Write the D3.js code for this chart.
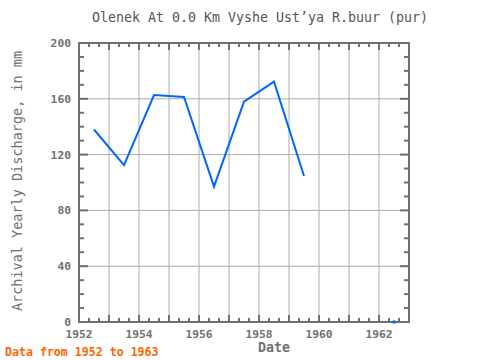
<!DOCTYPE html>
<html>
<head>
<script src="https://cdn.jsdelivr.net/npm/d3@7"></script>
<style>
  body { margin: 0; background: #fff; }
  text { font-family: "DejaVu Sans Mono", "Liberation Mono", monospace; }
</style>
</head>
<body>
<script>
  // data (mid-year points)
  var years = [1952.5, 1953.5, 1954.5, 1955.5, 1956.5, 1957.5, 1958.5, 1959.5, 1960.5, 1961.5, 1962.5];
  var discharge = [138, 112.5, 162.7, 161.3, 97, 158, 172.3, 104.7, null, null, 0];
  var xTicks = [1952, 1954, 1956, 1958, 1960, 1962];
  var yTicks = [0, 40, 80, 120, 160, 200];

  var w = 480, h = 360;
  var m = { left: 79, right: 409, top: 43, bottom: 322 };
  var axisCol = "#707070", gridCol = "#aaaaaa", lineCol = "#0066ff";

  var svg = d3.select("body").append("svg")
    .attr("width", w)
    .attr("height", h);

  var x = d3.scaleLinear().domain([1952, 1963]).range([m.left, m.right]);
  var y = d3.scaleLinear().domain([0, 200]).range([m.bottom, m.top]);

  // grid
  svg.append("g").selectAll("line")
    .data(d3.range(1953, 1963))
    .enter().append("line")
    .attr("x1", function (d) { return x(d); })
    .attr("x2", function (d) { return x(d); })
    .attr("y1", m.top).attr("y2", m.bottom)
    .attr("stroke", gridCol).attr("stroke-width", 1);

  svg.append("g").selectAll("line")
    .data([40, 80, 120, 160])
    .enter().append("line")
    .attr("y1", function (d) { return y(d); })
    .attr("y2", function (d) { return y(d); })
    .attr("x1", m.left).attr("x2", m.right)
    .attr("stroke", gridCol).attr("stroke-width", 1);

  // ticks (inward)
  var ticks = svg.append("g").attr("stroke", axisCol).attr("stroke-width", 2);
  var xMinor = d3.range(1952, 1963.001, 1 / 3);
  xMinor.forEach(function (t) {
    var major = Math.abs(t - Math.round(t)) < 0.01;
    var len = major ? 7 : 4;
    ticks.append("line").attr("x1", x(t)).attr("x2", x(t))
      .attr("y1", m.bottom).attr("y2", m.bottom - len);
    ticks.append("line").attr("x1", x(t)).attr("x2", x(t))
      .attr("y1", m.top).attr("y2", m.top + len);
  });
  d3.range(0, 201, 10).forEach(function (v) {
    var len = v % 40 === 0 ? 9 : 5;
    ticks.append("line").attr("y1", y(v)).attr("y2", y(v))
      .attr("x1", m.left).attr("x2", m.left + len);
    ticks.append("line").attr("y1", y(v)).attr("y2", y(v))
      .attr("x1", m.right).attr("x2", m.right - len);
  });

  // frame
  svg.append("rect")
    .attr("x", m.left).attr("y", m.top)
    .attr("width", m.right - m.left).attr("height", m.bottom - m.top)
    .attr("fill", "none").attr("stroke", axisCol).attr("stroke-width", 2);

  // tick labels
  svg.append("g").selectAll("text")
    .data(xTicks)
    .enter().append("text")
    .attr("x", function (d) { return x(d); })
    .attr("y", m.bottom + 16)
    .attr("text-anchor", "middle")
    .attr("font-size", 11.3).attr("font-weight", "bold")
    .attr("fill", axisCol)
    .text(function (d) { return d; });

  svg.append("g").selectAll("text")
    .data(yTicks)
    .enter().append("text")
    .attr("x", m.left - 8)
    .attr("y", function (d) { return y(d) + 4; })
    .attr("text-anchor", "end")
    .attr("font-size", 11.3).attr("font-weight", "bold")
    .attr("fill", axisCol)
    .text(function (d) { return d; });

  // data line
  var pts = years.map(function (d, i) { return { x: d, y: discharge[i] }; });
  var line = d3.line()
    .defined(function (d) { return d.y !== null; })
    .x(function (d) { return x(d.x); })
    .y(function (d) { return y(d.y); });

  svg.append("path")
    .datum(pts)
    .attr("d", line)
    .attr("fill", "none")
    .attr("stroke", lineCol)
    .attr("stroke-width", 2);

  // isolated points
  var lone = pts.filter(function (d, i) {
    return d.y !== null &&
      (i === 0 || pts[i - 1].y === null) &&
      (i === pts.length - 1 || pts[i + 1].y === null);
  });
  svg.append("g").selectAll("rect")
    .data(lone)
    .enter().append("rect")
    .attr("x", function (d) { return x(d.x) - 1.5; })
    .attr("y", function (d) { return y(d.y) - 1.5; })
    .attr("width", 3).attr("height", 3)
    .attr("fill", lineCol);

  // titles
  svg.append("text")
    .attr("x", 260).attr("y", 22)
    .attr("text-anchor", "middle")
    .attr("font-size", 13.3)
    .attr("fill", "#555")
    .text("Olenek At 0.0 Km Vyshe Ust’ya R.buur (pur)");

  svg.append("text")
    .attr("x", 274).attr("y", 352)
    .attr("text-anchor", "middle")
    .attr("font-size", 13.3).attr("font-weight", "bold")
    .attr("fill", axisCol)
    .text("Date");

  svg.append("text")
    .attr("transform", "translate(22," + 181 + ") rotate(-90)")
    .attr("text-anchor", "middle")
    .attr("font-size", 13.5)
    .attr("fill", axisCol)
    .text("Archival Yearly Discharge, in mm");

  svg.append("text")
    .attr("x", 5).attr("y", 356)
    .attr("font-size", 11.6).attr("font-weight", "bold")
    .attr("fill", "#ff6600")
    .text("Data from 1952 to 1963");
</script>
</body>
</html>
